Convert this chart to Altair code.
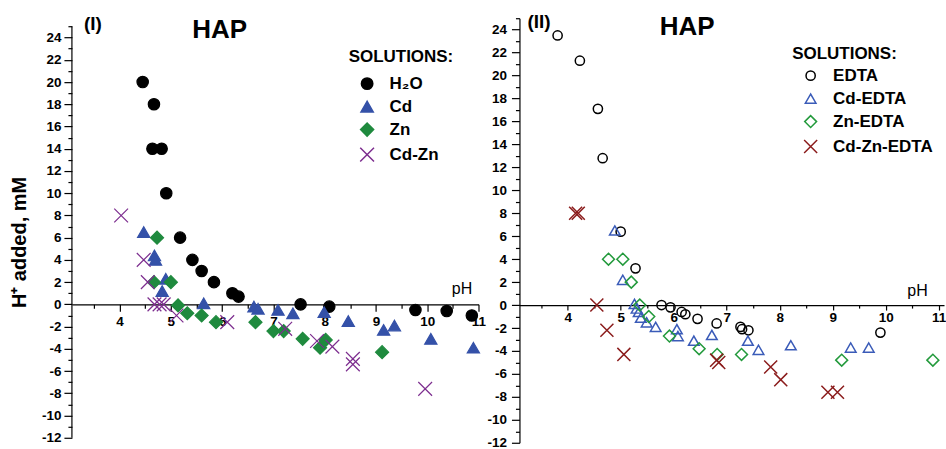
import altair as alt
import pandas as pd

FONT = "Liberation Sans, Arial, sans-serif"

# ---------------- Panel (I) data ----------------
left_series = ["H₂O", "Cd", "Zn", "Cd-Zn"]
left_colors = ["#000000", "#3451a8", "#1f8a3e", "#7d2e8f"]

h2o_ph = [4.45, 4.67, 4.64, 4.82, 4.91, 5.18, 5.42, 5.60, 5.84, 6.20, 6.32, 7.53, 8.09, 9.77, 10.38, 10.87]
h2o_h = [20.0, 18.0, 14.0, 14.0, 10.0, 6.0, 4.0, 3.0, 2.0, 1.0, 0.7, 0.0, -0.2, -0.5, -0.6, -1.0]

cd_ph = [4.47, 4.68, 4.70, 4.90, 4.83, 5.64, 6.62, 6.70, 7.09, 7.38, 7.99, 8.46, 9.15, 9.36, 10.07, 10.90]
cd_h = [6.5, 4.4, 4.0, 2.3, 1.2, 0.1, -0.2, -0.4, -0.5, -0.8, -0.7, -1.5, -2.3, -1.9, -3.1, -3.9]

zn_ph = [4.73, 4.67, 5.00, 5.14, 5.32, 5.60, 5.88, 6.65, 7.00, 7.20, 7.57, 7.91, 8.02, 9.12]
zn_h = [6.0, 2.0, 2.0, -0.1, -0.8, -1.0, -1.6, -1.6, -2.4, -2.4, -3.1, -3.9, -3.2, -4.3]

cdzn_ph = [4.03, 4.47, 4.55, 4.68, 4.78, 4.86, 5.11, 6.10, 7.23, 7.85, 8.15, 8.55, 8.55, 9.96]
cdzn_h = [8.0, 4.0, 2.0, 0.0, 0.0, 0.0, -1.0, -1.6, -2.2, -3.3, -3.8, -4.9, -5.4, -7.6]

# ---------------- Panel (II) data ----------------
right_series = ["EDTA", "Cd-EDTA", "Zn-EDTA", "Cd-Zn-EDTA"]
right_colors = ["#000000", "#3a5bb8", "#239a3c", "#8b1c1c"]

edta_ph = [3.81, 4.23, 4.57, 4.66, 5.00, 5.28, 5.77, 5.94, 6.15, 6.22, 6.45, 6.81, 7.26, 7.29, 7.41, 9.90]
edta_h = [23.5, 21.3, 17.1, 12.8, 6.4, 3.2, 0.0, -0.2, -0.6, -0.8, -1.2, -1.6, -1.9, -2.1, -2.2, -2.4]

cdedta_ph = [4.89, 5.04, 5.26, 5.30, 5.34, 5.38, 5.49, 5.66, 6.06, 6.08, 6.38, 6.72, 7.40, 7.60, 8.21, 9.34, 9.68]
cdedta_h = [6.5, 2.2, 0.1, -0.3, -0.6, -1.1, -1.5, -1.9, -2.1, -2.7, -3.1, -2.6, -3.1, -3.9, -3.5, -3.7, -3.7]

znedta_ph = [4.77, 5.04, 5.20, 5.36, 5.53, 5.92, 6.48, 6.82, 7.28, 9.17, 10.89]
znedta_h = [4.0, 4.0, 2.0, 0.0, -1.0, -2.7, -3.8, -4.3, -4.3, -4.8, -4.8]

cdznedta_ph = [4.15, 4.20, 4.55, 4.74, 5.06, 6.81, 6.85, 7.83, 8.02, 8.91, 9.09]
cdznedta_h = [8.0, 8.0, 0.0, -2.2, -4.3, -4.8, -5.0, -5.4, -6.5, -7.6, -7.6]

# tick values
x_ticks = [3.5, 4, 4.5, 5, 5.5, 6, 6.5, 7, 7.5, 8, 8.5, 9, 9.5, 10, 10.5, 11]
y_ticks = list(range(-12, 26))

X_SHAPE = "M-1,-1L1,1M-1,1L1,-1"
shapes = ["circle", "triangle-up", "diamond", X_SHAPE]


def make_df(series, pairs):
    rows = []
    for name, (xs, ys) in zip(series, pairs):
        for a, b in zip(xs, ys):
            rows.append({"ph": a, "h": b, "sol": name})
    return pd.DataFrame(rows)


left_df = make_df(left_series, [(h2o_ph, h2o_h), (cd_ph, cd_h), (zn_ph, zn_h), (cdzn_ph, cdzn_h)])
right_df = make_df(right_series, [(edta_ph, edta_h), (cdedta_ph, cdedta_h),
                                  (znedta_ph, znedta_h), (cdznedta_ph, cdznedta_h)])

LABEL_SIZE = 13.5


def x_axis(height, ydom, title_x, title_y, major, minor, lpad):
    off = -height * (0 - ydom[0]) / (ydom[1] - ydom[0])
    return alt.Axis(
        values=x_ticks,
        labelExpr="datum.value % 1 === 0 ? (datum.value + '') : ''",
        tickSize={"condition": {"test": "datum.value % 1 === 0", "value": major}, "value": minor},
        offset=off, grid=False, domainColor="black", tickColor="black",
        domainWidth=1.2, tickWidth=1.2, labelOverlap=False, labelFlush=False,
        labelFont=FONT, labelFontSize=LABEL_SIZE, labelFontWeight="bold", labelColor="black",
        labelPadding=lpad,
        title="pH", titleFont=FONT, titleFontSize=16, titleFontWeight="normal",
        titleColor="black", titleX=title_x, titleY=title_y,
        titleAlign="center", titleBaseline="middle",
    )


def y_axis(title, domain_line, lpad):
    if title:
        kw = dict(title=title, titleFont=FONT, titleFontSize=20, titleFontWeight="bold",
                  titleColor="black", titleX=-52, titleY=224, titleAngle=270,
                  titleAlign="center", titleBaseline="middle")
    else:
        kw = dict(title=None)
    return alt.Axis(
        values=y_ticks,
        labelExpr="(datum.value % 2 === 0 && datum.value <= 24) ? (datum.value + '') : ''",
        tickSize={"condition": {"test": "datum.value % 2 === 0", "value": 8}, "value": 4},
        grid=False, domain=domain_line, domainColor="black", tickColor="black",
        domainWidth=1.2, tickWidth=1.2, labelOverlap=False, labelFlush=False,
        labelFont=FONT, labelFontSize=LABEL_SIZE, labelFontWeight="bold", labelColor="black",
        labelPadding=lpad, **kw,
    )


def legend(lx, ly, tpad, rpad):
    return alt.Legend(
        title="SOLUTIONS:", orient="none", legendX=lx, legendY=ly,
        titleFont=FONT, titleFontSize=17, titleFontWeight="bold", titleColor="black",
        labelFont=FONT, labelFontSize=17, labelFontWeight="bold", labelColor="black",
        symbolSize=150, symbolStrokeWidth=1.5, symbolOffset=10, labelOffset=14,
        rowPadding=rpad, titlePadding=tpad,
    )


def text_mark(txt, x, y, size):
    return alt.Chart(pd.DataFrame({"t": [txt]})).mark_text(
        font=FONT, fontSize=size, fontWeight="bold", color="black",
        align="left" if txt.startswith("(") else "center", baseline="middle",
    ).encode(x=alt.value(x), y=alt.value(y), text="t:N")


# ---------------- Panel (I) ----------------
LW, LH = 407, 420
LX = [3.07, 11.0]
LY = [-12, 25.74]

left_y_axis = y_axis("H⁺ added, mM", False, 3)
left_y_scale = alt.Scale(domain=LY, nice=False, zero=False)

left_pts = alt.Chart(left_df).mark_point(filled=True, opacity=1, strokeWidth=1.2).encode(
    x=alt.X("ph:Q", scale=alt.Scale(domain=LX, nice=False, zero=False),
            axis=x_axis(LH, LY, 390, -16, 7, 4, 3)),
    y=alt.Y("h:Q", scale=left_y_scale, axis=left_y_axis),
    color=alt.Color("sol:N", scale=alt.Scale(domain=left_series, range=left_colors),
                    legend=legend(277, 31, 9, 4)),
    stroke=alt.Stroke("sol:N", scale=alt.Scale(domain=left_series, range=left_colors)),
    shape=alt.Shape("sol:N", scale=alt.Scale(domain=left_series, range=shapes)),
    size=alt.Size("sol:N", scale=alt.Scale(domain=left_series, range=[130, 190, 170, 140]),
                  legend=None),
)

left_axis_line = alt.Chart(pd.DataFrame({"a": [-12], "b": [25]})).mark_rule(
    color="black", strokeWidth=1.2
).encode(x=alt.value(0), y=alt.Y("a:Q", scale=left_y_scale, axis=left_y_axis), y2="b:Q")

left = alt.layer(
    left_pts, left_axis_line,
    text_mark("(I)", 12, 6, 19),
    text_mark("HAP", 148, 12, 26),
).properties(width=LW, height=LH)

# ---------------- Panel (II) ----------------
RW, RH = 425, 425
RX = [3.09, 11.1]
RY = [-12, 25.0]

right_pts = alt.Chart(right_df).mark_point(filled=False, opacity=1, strokeWidth=1.5).encode(
    x=alt.X("ph:Q", scale=alt.Scale(domain=RX, nice=False, zero=False),
            axis=x_axis(RH, RY, 398, -15, 5, 3, 0)),
    y=alt.Y("h:Q", scale=alt.Scale(domain=RY, nice=False, zero=False),
            axis=y_axis(None, True, 5)),
    color=alt.Color("sol:N", scale=alt.Scale(domain=right_series, range=right_colors),
                    legend=legend(273, 28, 4, 5)),
    shape=alt.Shape("sol:N", scale=alt.Scale(domain=right_series, range=shapes)),
    size=alt.Size("sol:N", scale=alt.Scale(domain=right_series, range=[85, 170, 160, 140]),
                  legend=None),
)

right = alt.layer(
    right_pts,
    text_mark("(II)", 8, 4, 19),
    text_mark("HAP", 168, 9, 26),
).properties(width=RW, height=RH)

chart = alt.hconcat(left, right, spacing=41, bounds="flush").resolve_scale(
    color="independent", shape="independent", stroke="independent", size="independent"
).configure_view(stroke=None).properties(
    padding={"left": 10, "top": 11, "right": 0, "bottom": -1},
    background="white",
)

chart.save("out.html", embed_options={"renderer": "svg", "actions": False})
